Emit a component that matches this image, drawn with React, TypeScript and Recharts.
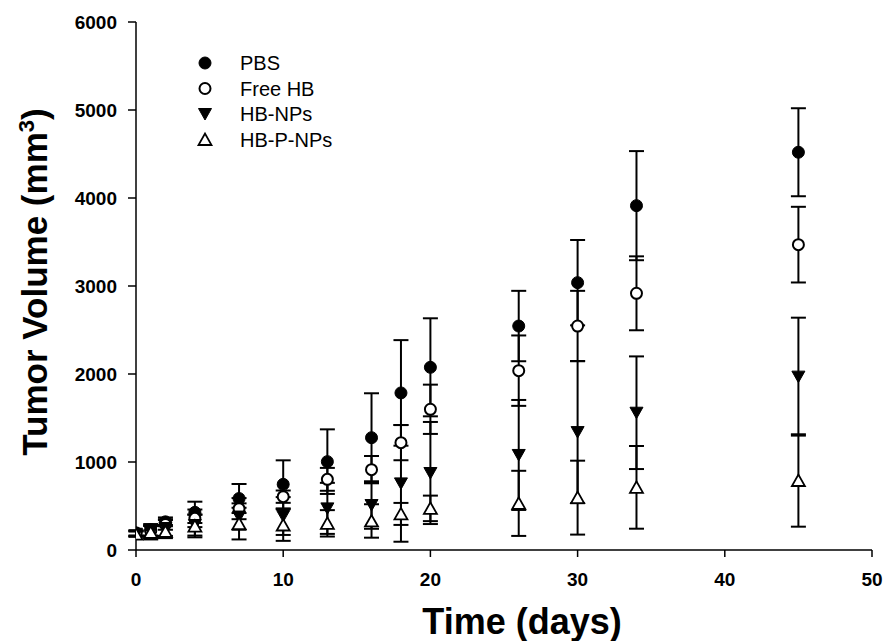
import React from 'react';
import { ScatterChart, Scatter, XAxis, YAxis, ErrorBar } from 'recharts';

const days = [0, 1, 2, 4, 7, 10, 13, 16, 18, 20, 26, 30, 34, 45];

const pbsMean = [195, 230, 320, 428, 585, 746, 1004, 1276, 1785, 2076, 2545, 3038, 3913, 4520];
const pbsErr = [30, 65, 50, 121, 165, 273, 367, 505, 600, 557, 400, 485, 620, 500];

const freeMean = [190, 215, 290, 360, 470, 606, 803, 913, 1220, 1599, 2038, 2545, 2917, 3470];
const freeErr = [30, 60, 60, 100, 120, 70, 130, 155, 200, 280, 400, 400, 420, 430];

const npsMean = [185, 205, 250, 284, 380, 386, 473, 511, 757, 875, 1080, 1340, 1560, 1970];
const npsErr = [30, 70, 90, 120, 150, 215, 290, 270, 663, 580, 625, 808, 640, 670];

const pnpsMean = [180, 200, 210, 272, 300, 284, 303, 330, 410, 473, 530, 595, 712, 790];
const pnpsErr = [30, 80, 75, 128, 180, 180, 150, 190, 125, 145, 370, 420, 470, 525];

const xTicks = [0, 10, 20, 30, 40, 50];
const yTicks = [0, 1000, 2000, 3000, 4000, 5000, 6000];

const seriesNames = ['PBS', 'Free HB', 'HB-NPs', 'HB-P-NPs'];
const seriesKinds = ['filledCircle', 'openCircle', 'filledDown', 'openUp'];

const build = (mean: number[], err: number[]) =>
  days.map((d, i) => ({ x: d, y: mean[i], err: err[i] }));

const seriesData = [
  build(pbsMean, pbsErr),
  build(freeMean, freeErr),
  build(npsMean, npsErr),
  build(pnpsMean, pnpsErr),
];

const FONT = '"Liberation Sans", Arial, sans-serif';

function Marker({ kind, cx, cy }: { kind: string; cx: number; cy: number }) {
  if (kind === 'filledCircle') return <circle cx={cx} cy={cy} r={6} fill="#000" stroke="#000" strokeWidth={1} />;
  if (kind === 'openCircle') return <circle cx={cx} cy={cy} r={5.5} fill="#fff" stroke="#000" strokeWidth={2} />;
  if (kind === 'filledDown')
    return <path d={`M${cx - 6.5},${cy - 5.5} L${cx + 6.5},${cy - 5.5} L${cx},${cy + 6} Z`} fill="#000" stroke="#000" strokeWidth={1} />;
  return <path d={`M${cx - 6.5},${cy + 5.5} L${cx + 6.5},${cy + 5.5} L${cx},${cy - 6} Z`} fill="#fff" stroke="#000" strokeWidth={1.8} />;
}

const makeShape = (kind: string) => (props: any) => <Marker kind={kind} cx={props.cx} cy={props.cy} />;

export default function App() {
  return (
    <div style={{ position: 'absolute', left: 0, top: 0, width: 884, height: 641, background: '#fff' }}>
      <ScatterChart width={884} height={641} margin={{ top: 22, right: 12, left: 56, bottom: 51 }}>
        <XAxis
          type="number"
          dataKey="x"
          domain={[0, 50]}
          ticks={xTicks}
          height={40}
          tickSize={7}
          tickMargin={16}
          axisLine={{ stroke: '#000', strokeWidth: 1.5 }}
          tickLine={{ stroke: '#000', strokeWidth: 1.5 }}
          tick={{ fill: '#000', fontSize: 19, fontWeight: 'bold', fontFamily: FONT }}
          allowDataOverflow
        />
        <YAxis
          type="number"
          dataKey="y"
          domain={[0, 6000]}
          ticks={yTicks}
          width={80}
          tickSize={8}
          tickMargin={11}
          axisLine={{ stroke: '#000', strokeWidth: 1.5 }}
          tickLine={{ stroke: '#000', strokeWidth: 1.5 }}
          tick={{ fill: '#000', fontSize: 19, fontWeight: 'bold', fontFamily: FONT }}
          allowDataOverflow
        />
        {seriesData.map((data, i) => (
          <Scatter
            key={seriesNames[i]}
            name={seriesNames[i]}
            data={data}
            isAnimationActive={false}
            shape={makeShape(seriesKinds[i])}
          >
            <ErrorBar dataKey="err" direction="y" width={7.5} stroke="#000" strokeWidth={2} isAnimationActive={false} />
          </Scatter>
        ))}
      </ScatterChart>
      <svg width={884} height={641} style={{ position: 'absolute', left: 0, top: 0, pointerEvents: 'none' }}>
        <text x={522} y={634} textAnchor="middle" fontFamily={FONT} fontWeight="bold" fontSize={36} fill="#000">
          Time (days)
        </text>
        <text transform="translate(47, 282) rotate(-90)" textAnchor="middle" fontFamily={FONT} fontWeight="bold" fontSize={35} fill="#000">
          Tumor Volume (mm<tspan fontSize={22} dy={-13}>3</tspan><tspan dy={13}>)</tspan>
        </text>
        {seriesNames.map((name, i) => (
          <g key={name}>
            <Marker kind={seriesKinds[i]} cx={205} cy={63 + i * 25.5} />
            <text x={240} y={63 + i * 25.5} dy="0.36em" fontFamily={FONT} fontSize={20} fill="#000">
              {name}
            </text>
          </g>
        ))}
      </svg>
    </div>
  );
}
